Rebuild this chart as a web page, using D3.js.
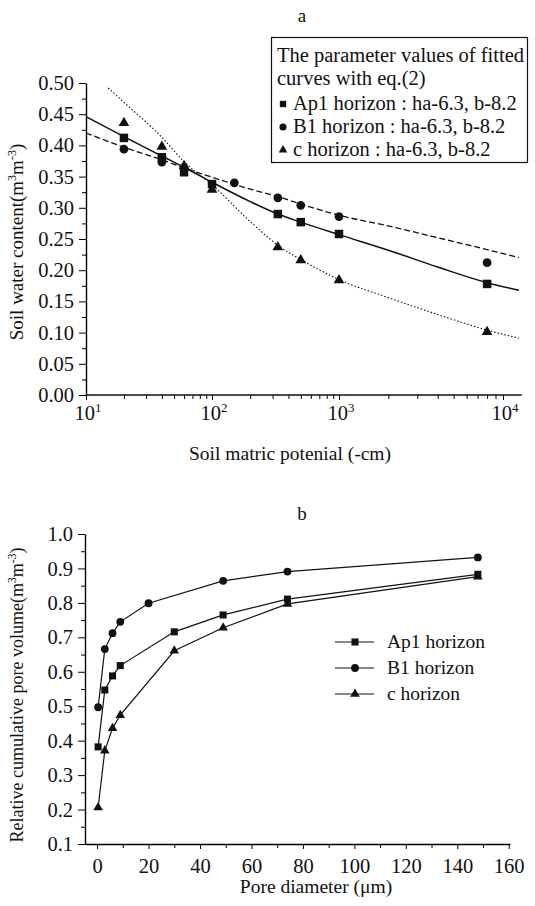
<!DOCTYPE html>
<html>
<head>
<meta charset="utf-8">
<script src="https://cdn.jsdelivr.net/npm/d3@7"></script>
<style>
body { margin: 0; background: #fff; }
text { font-family: "Liberation Serif", serif; fill: #111; }
</style>
</head>
<body>
<svg width="535" height="906"></svg>
<script>
// ---- panel a : water retention ----
var potAp1 = [20, 40, 60, 100, 330, 500, 1000, 8000],
    potB1 = [20, 40, 60, 150, 330, 500, 1000, 8000],
    potC = [20, 40, 60, 100, 330, 500, 1000, 8000];
var waterAp1 = [0.412, 0.381, 0.357, 0.338, 0.290, 0.277, 0.258, 0.178],
    waterB1 = [0.394, 0.373, 0.364, 0.340, 0.316, 0.304, 0.286, 0.212],
    waterC = [0.436, 0.398, 0.367, 0.329, 0.237, 0.216, 0.184, 0.101];

// fitted curves
var fitPot = [10, 20, 40, 60, 100, 200, 330, 500, 1000, 2000, 4000, 8000, 12500],
    fitPotC = [15, 20, 40, 60, 100, 200, 330, 500, 1000, 2000, 4000, 8000, 12500];
var fitAp1 = [0.446, 0.414, 0.383, 0.365, 0.341, 0.310, 0.290, 0.277, 0.257, 0.232, 0.205, 0.180, 0.168],
    fitB1 = [0.420, 0.397, 0.377, 0.364, 0.349, 0.330, 0.318, 0.306, 0.288, 0.271, 0.252, 0.233, 0.220],
    fitC = [0.492, 0.469, 0.413, 0.374, 0.337, 0.278, 0.240, 0.217, 0.185, 0.156, 0.129, 0.104, 0.091];

var decades = [10, 100, 1000, 10000];
var yTicksA = [0, 0.05, 0.10, 0.15, 0.20, 0.25, 0.30, 0.35, 0.40, 0.45, 0.50];

var legendA = ["Ap1 horizon : ha-6.3, b-8.2", "B1 horizon : ha-6.3, b-8.2", "c horizon : ha-6.3, b-8.2"];

// ---- panel b : pore volume ----
var poreAp1 = [0.4, 3, 6, 9, 30, 49, 74, 148],
    poreB1 = [0.4, 3, 6, 9, 20, 49, 74, 148],
    poreC = [0.4, 3, 6, 9, 30, 49, 74, 148];
var volAp1 = [0.382, 0.547, 0.588, 0.618, 0.716, 0.765, 0.811, 0.883],
    volB1 = [0.497, 0.666, 0.712, 0.745, 0.799, 0.864, 0.891, 0.932],
    volC = [0.206, 0.371, 0.436, 0.474, 0.661, 0.728, 0.797, 0.876];
var xTicksB = [0, 20, 40, 60, 80, 100, 120, 140, 160];
var yTicksB = [0.1, 0.2, 0.3, 0.4, 0.5, 0.6, 0.7, 0.8, 0.9, 1.0];
var legendB = ["Ap1 horizon", "B1 horizon", "c horizon"];

var svg = d3.select("svg");
var sq = d3.symbol().type(d3.symbolSquare),
    ci = d3.symbol().type(d3.symbolCircle),
    tr = d3.symbol().type(d3.symbolTriangle);

function zip(xs, ys) { return xs.map(function(v, i) { return [v, ys[i]]; }); }

// superscript helper
function sup(t, parts) {
  parts.forEach(function(p) {
    var s = t.append("tspan").text(p[0]);
    if (p[1]) s.attr("dy", p[1]);
    if (p[2]) s.attr("font-size", p[2]);
  });
}

// ================= panel a =================
var xA = d3.scaleLog().domain([10, 100, 1000, 10000]).range([86, 212, 339, 503]),
    yA = d3.scaleLinear().domain([0, 0.5]).range([395, 83]);

svg.append("text").attr("x", 302).attr("y", 22).attr("text-anchor", "middle")
  .attr("font-size", 19).text("a");

// y axis
var gyA = svg.append("g").attr("transform", "translate(86,0)");
gyA.call(d3.axisLeft(yA).tickValues(yTicksA).tickFormat(d3.format(".2f"))
  .tickSize(7).tickPadding(5).tickSizeOuter(0));
gyA.append("g").call(d3.axisLeft(yA).tickValues(d3.range(0.025, 0.5, 0.05))
  .tickFormat("").tickSize(4).tickSizeOuter(0)).select(".domain").remove();
gyA.selectAll("text").attr("font-size", 20.5).attr("fill", "#111");

// x axis
var gxA = svg.append("g").attr("transform", "translate(0,395)");
gxA.call(d3.axisBottom(xA).tickValues(decades).tickFormat("").tickSize(5).tickSizeOuter(0));
gxA.append("g").call(d3.axisBottom(xA).tickValues(xA.ticks().filter(function(d) { return decades.indexOf(d) < 0; }))
  .tickFormat("").tickSize(4).tickSizeOuter(0)).select(".domain").remove();
gxA.select(".domain").remove();
gxA.append("line").attr("x1", xA(10)).attr("x2", xA(13000)).attr("stroke", "#111").attr("stroke-width", 1.4);
gxA.selectAll(".declab").data(decades).enter().append("text")
  .attr("x", function(d) { return xA(d) + 2; }).attr("y", 25).attr("text-anchor", "middle")
  .attr("font-size", 20.5)
  .each(function(d) { sup(d3.select(this), [["10"], [String(Math.log10(d)), -8, 13]]); });

sup(svg.append("text").attr("x", 290).attr("y", 460).attr("text-anchor", "middle").attr("font-size", 19.5),
  [["Soil matric potenial (-cm)"]]);
sup(svg.append("text").attr("transform", "translate(23,242) rotate(-90)").attr("text-anchor", "middle").attr("font-size", 19),
  [["Soil water content(m"], ["3", -7, 12], ["m", 7], ["-3", -7, 12], [")", 7]]);

// fitted curves
var lineA = d3.line().x(function(d) { return xA(d[0]); }).y(function(d) { return yA(d[1]); }).curve(d3.curveMonotoneX);
svg.append("path").attr("d", lineA(zip(fitPot, fitAp1))).attr("fill", "none").attr("stroke", "#111").attr("stroke-width", 1.5);
svg.append("path").attr("d", lineA(zip(fitPot, fitB1))).attr("fill", "none").attr("stroke", "#111").attr("stroke-width", 1.3).attr("stroke-dasharray", "6,3");
svg.append("path").attr("d", lineA(zip(fitPotC, fitC))).attr("fill", "none").attr("stroke", "#111").attr("stroke-width", 1.1).attr("stroke-dasharray", "1.5,2");

function pts(g, xs, ys, sx, sy, sym, size) {
  g.selectAll(null).data(zip(xs, ys)).enter().append("path")
    .attr("transform", function(d) { return "translate(" + sx(d[0]) + "," + sy(d[1]) + ")"; })
    .attr("d", sym.size(size)).attr("fill", "#111");
}
pts(svg, potAp1, waterAp1, xA, yA, sq, 72);
pts(svg, potB1, waterB1, xA, yA, ci, 60);
pts(svg, potC, waterC, xA, yA, tr, 50);

// legend box a
var lg = svg.append("g");
lg.append("rect").attr("x", 271.5).attr("y", 37.5).attr("width", 256).attr("height", 125)
  .attr("fill", "#fff").attr("stroke", "#111").attr("stroke-width", 1.2);
lg.append("text").attr("x", 277).attr("y", 62).attr("font-size", 20.5).text("The parameter values of fitted");
lg.append("text").attr("x", 277).attr("y", 85).attr("font-size", 20.5).text("curves with eq.(2)");
var lsym = [sq.size(40)(), ci.size(40)(), tr.size(32)()];
legendA.forEach(function(s, i) {
  var yy = 110 + i * 23;
  lg.append("path").attr("transform", "translate(283," + (yy - 6) + ")").attr("d", lsym[i]).attr("fill", "#111");
  lg.append("text").attr("x", 293).attr("y", yy).attr("font-size", 20.5).text(s);
});

// ================= panel b =================
var xB = d3.scaleLinear().domain([-4.7, 160.5]).range([85, 510]),
    yB = d3.scaleLinear().domain([0.1, 1.0]).range([844, 534]);

svg.append("text").attr("x", 302).attr("y", 520).attr("text-anchor", "middle").attr("font-size", 19).text("b");

var gyB = svg.append("g").attr("transform", "translate(85,0)");
gyB.call(d3.axisLeft(yB).tickValues(yTicksB).tickFormat(d3.format(".1f")).tickSize(7).tickPadding(5).tickSizeOuter(0));
gyB.append("g").call(d3.axisLeft(yB).tickValues(d3.range(0.15, 1.0, 0.1)).tickFormat("").tickSize(4).tickSizeOuter(0))
  .select(".domain").remove();
gyB.selectAll("text").attr("font-size", 20.5).attr("fill", "#111");

var gxB = svg.append("g").attr("transform", "translate(0,844)");
gxB.call(d3.axisBottom(xB).tickValues(xTicksB).tickFormat(d3.format("d")).tickSize(5).tickPadding(9).tickSizeOuter(0));
gxB.append("g").call(d3.axisBottom(xB).tickValues(d3.range(10, 160, 20)).tickFormat("").tickSize(4).tickSizeOuter(0))
  .select(".domain").remove();
gxB.selectAll("text").attr("font-size", 20.5).attr("fill", "#111");
svg.selectAll(".domain").attr("stroke-width", 1.4);

svg.append("text").attr("x", 316).attr("y", 893).attr("text-anchor", "middle").attr("font-size", 19.5).text("Pore diameter (μm)");
sup(svg.append("text").attr("transform", "translate(23,695) rotate(-90)").attr("text-anchor", "middle").attr("font-size", 18),
  [["Relative cumulative pore volume(m"], ["3", -7, 11.5], ["m", 7], ["-3", -7, 11.5], [")", 7]]);

var lineB = d3.line().x(function(d) { return xB(d[0]); }).y(function(d) { return yB(d[1]); });
[[poreAp1, volAp1, sq, 50], [poreB1, volB1, ci, 48], [poreC, volC, tr, 40]].forEach(function(s) {
  svg.append("path").attr("d", lineB(zip(s[0], s[1]))).attr("fill", "none").attr("stroke", "#111").attr("stroke-width", 1.2);
  pts(svg, s[0], s[1], xB, yB, s[2], s[3]);
});

// legend b
var lb = svg.append("g");
var bsym = [sq.size(50)(), ci.size(48)(), tr.size(40)()];
legendB.forEach(function(s, i) {
  var yy = 642 + i * 26;
  lb.append("line").attr("x1", 335).attr("x2", 374).attr("y1", yy).attr("y2", yy).attr("stroke", "#111").attr("stroke-width", 1);
  lb.append("path").attr("transform", "translate(355," + yy + ")").attr("d", bsym[i]).attr("fill", "#111");
  lb.append("text").attr("x", 387).attr("y", yy + 6).attr("font-size", 19.5).text(s);
});
</script>
</body>
</html>
